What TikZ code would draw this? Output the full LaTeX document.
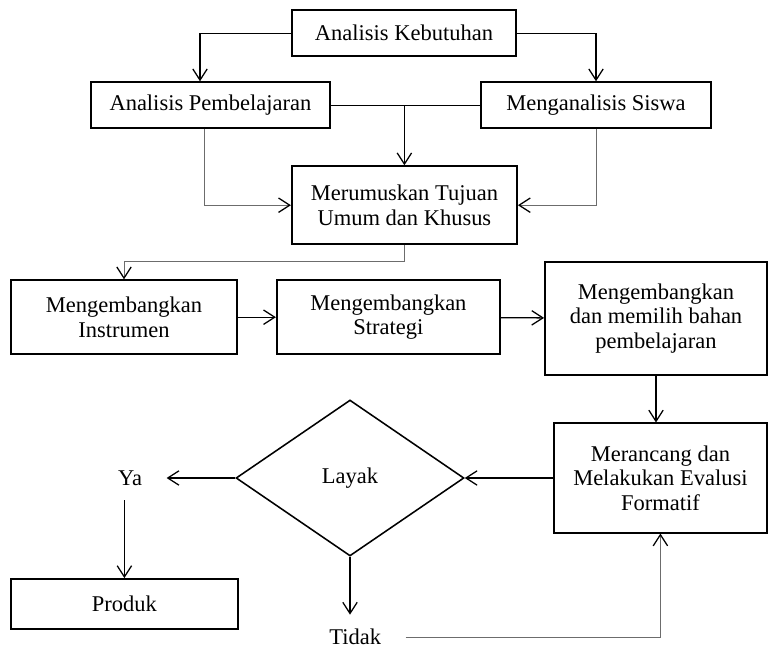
\documentclass[tikz,border=0pt]{standalone}
\usepackage{fontspec}
\setmainfont{Liberation Serif}
\usepackage{tikz}
\usetikzlibrary{shapes,arrows.meta}
\tikzset{
	block/.style    = {draw, line width=1.3pt, rectangle, minimum height = 1.15cm,
		minimum width = 5.6cm, align=center, inner sep=0pt},
	cond/.style     = {draw, line width=1.1pt, diamond, minimum width = 5.7cm,
		minimum height = 3.9cm, inner sep=0pt},
	answer/.style   = {inner xsep=0.6cm, inner ysep=0.35cm},
	faint/.style    = {draw=gray!85!black, line width=0.6pt}
}
\newcommand{\txt}{\fontsize{16}{17.5}\selectfont}

\begin{document}
\begin{tikzpicture}[auto, line width=0.9pt, font=\txt,
	>={Straight Barb[length=2.8mm,width=3.6mm,black,line width=0.9pt]}]

	\useasboundingbox (0,0) rectangle (19.25,-16.2);

	\draw
	node at (10.1,-0.83) [block] (ak) {Analisis Kebutuhan}
	node at (5.26,-2.63) [block, minimum width=5.98cm] (ap) {Analisis Pembelajaran}
	node at (14.9,-2.63) [block, minimum width=5.75cm] (ms) {Menganalisis Siswa}
	node at (10.11,-5.13) [block, minimum width=5.63cm, minimum height=1.95cm] (mt) {Merumuskan Tujuan\\Umum dan Khusus}
	node at (3.1,-7.93) [block, minimum width=5.65cm, minimum height=1.85cm] (ins) {Mengembangkan\\Instrumen}
	node at (9.71,-7.93) [block, minimum width=5.58cm, minimum height=1.85cm] (str) {Mengembangkan\\Strategi}
	node at (16.4,-7.96) [block, minimum width=5.55cm, minimum height=2.83cm] (bhn) {Mengembangkan\\dan memilih bahan\\pembelajaran}
	node at (16.51,-11.95) [block, minimum width=5.33cm, minimum height=2.73cm] (eva) {Merancang dan\\Melakukan Evalusi\\Formatif}
	node at (8.75,-11.95) [cond] (lyk) {Layak}
	node at (3.25,-11.95) [answer] (ya) {Ya}
	node at (3.11,-15.1) [block, minimum width=5.68cm, minimum height=1.25cm] (prd) {Produk}
	node at (8.88,-15.93) [answer] (tdk) {Tidak};

	\draw[->](ak.west) -| ([xshift=-0.26cm]ap.north);
	\draw[->](ak.east) -| (ms.north);
	\draw(ap.east) -- (ms.west);
	\draw[->](mt.north |- ap.east) -- (mt.north);
	\draw[faint, ->]([xshift=-0.16cm]ap.south) |- (mt.west);
	\draw[faint, ->](ms.south) |- (mt.east);
	\draw[faint, ->](mt.south) -- ++(0,-0.42) -| (ins.north);
	\draw[->](ins) -- (str);
	\draw[->](str) -- (bhn);
	\draw[->](bhn.south) -- (bhn.south |- eva.north);
	\draw[->](eva) -- (lyk);
	\draw[->](lyk) -- (ya);
	\draw[->](prd.north |- ya.south) -- (prd.north);
	\draw[->](lyk.south) -- (lyk.south |- tdk.north);
	\draw[faint, ->](tdk.east) -| (eva.south);

\end{tikzpicture}
\end{document}
